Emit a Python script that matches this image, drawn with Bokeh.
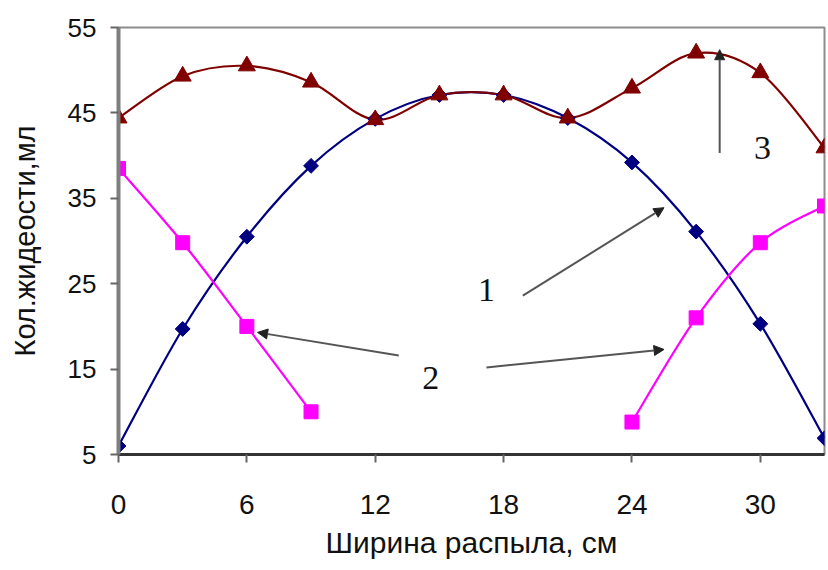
import math
from bokeh.plotting import figure
from bokeh.models import Range1d, FixedTicker, Arrow, NormalHead, ColumnDataSource, Title
from bokeh.core.properties import value
from bokeh.embed import file_html
from bokeh.resources import INLINE

# ---- data ----
width_cm = [0, 3, 6, 9, 12, 15, 18, 21, 24, 27, 30, 33]
series1 = [6.0, 19.7, 30.5, 38.8, 44.3, 47.1, 47.1, 44.4, 39.2, 31.1, 20.3, 6.9]
series3 = [44.4, 49.3, 50.5, 48.6, 44.2, 47.1, 47.1, 44.4, 47.9, 52.0, 49.7, 40.9]
series2_left_x = [0, 3, 6, 9]
series2_left = [38.5, 29.8, 20.0, 10.0]
series2_right_x = [24, 27, 30, 33]
series2_right = [8.8, 21.0, 29.8, 34.1]

x_ticks = [0, 6, 12, 18, 24, 30]
y_ticks = [5, 15, 25, 35, 45, 55]

x_title = "Ширина распыла, см"
y_title = "Кол.жидеости,мл"

labels_text = ["1", "2", "3"]
labels_x = [17.2, 14.6, 30.1]
labels_y = [24.3, 13.9, 40.9]

arrows_x0 = [18.9, 13.1, 17.2, 28.1]
arrows_y0 = [23.6, 16.6, 15.2, 40.3]
arrows_x1 = [25.5, 6.5, 25.5, 28.1]
arrows_y1 = [33.9, 19.3, 17.3, 52.4]


def smooth_segments(xs, ys):
    """Bezier control points for a smoothed line through the given points."""
    n = len(xs)
    out = dict(x0=[], y0=[], x1=[], y1=[], cx0=[], cy0=[], cx1=[], cy1=[])
    for i in range(n - 1):
        p0 = max(i - 1, 0)
        p3 = min(i + 2, n - 1)
        out["x0"].append(xs[i]); out["y0"].append(ys[i])
        out["x1"].append(xs[i + 1]); out["y1"].append(ys[i + 1])
        out["cx0"].append(xs[i] + (xs[i + 1] - xs[p0]) / 6.0)
        out["cy0"].append(ys[i] + (ys[i + 1] - ys[p0]) / 6.0)
        out["cx1"].append(xs[i + 1] - (xs[p3] - xs[i]) / 6.0)
        out["cy1"].append(ys[i + 1] - (ys[p3] - ys[i]) / 6.0)
    return ColumnDataSource(out)


p = figure(width=826, height=570, output_backend="svg", toolbar_location=None,
           x_range=Range1d(0, 33), y_range=Range1d(5, 55),
           min_border_left=118, min_border_right=2, min_border_top=27, min_border_bottom=116)

p.background_fill_color = "white"
p.border_fill_color = "white"
p.outline_line_color = "#8c8c8c"
p.outline_line_width = 2
p.xgrid.visible = False
p.ygrid.visible = False

BLUE = "#000080"
PINK = "#ff00ff"
RED = "#800000"

# smoothed lines
for xs, ys, col in [(width_cm, series1, BLUE), (width_cm, series3, RED),
                    (series2_left_x, series2_left, PINK), (series2_right_x, series2_right, PINK)]:
    src = smooth_segments(xs, ys)
    p.bezier(x0="x0", y0="y0", x1="x1", y1="y1", cx0="cx0", cy0="cy0", cx1="cx1", cy1="cy1",
             source=src, line_color=col, line_width=2.2)

# markers
p.scatter(width_cm, series1, marker="square", angle=math.pi / 4, size=10.5, color=BLUE)
p.scatter(series2_left_x, series2_left, marker="square", size=14, color=PINK)
p.scatter(series2_right_x, series2_right, marker="square", size=14, color=PINK)
p.scatter(width_cm, series3, marker="triangle", size=17, color=RED)

# annotation arrows and labels
for x0, y0, x1, y1 in zip(arrows_x0, arrows_y0, arrows_x1, arrows_y1):
    p.add_layout(Arrow(end=NormalHead(size=10, fill_color="#222222", line_color="#222222"),
                       x_start=x0, y_start=y0, x_end=x1, y_end=y1,
                       line_color="#555555", line_width=2))

p.text(x=labels_x, y=labels_y, text=labels_text, text_font=value("Liberation Serif"),
       text_font_size="34px", text_align="center", text_baseline="middle", text_color="#111111")

# x-axis title as a panel below the axis
p.add_layout(Title(text=x_title, align="center", text_font="Liberation Sans",
                   text_font_size="30px", text_font_style="normal", text_color="#111111",
                   standoff=14), "below")

# axes
p.xaxis.ticker = FixedTicker(ticks=x_ticks)
p.yaxis.ticker = FixedTicker(ticks=y_ticks)
p.xaxis.minor_tick_line_color = None
p.yaxis.minor_tick_line_color = None
p.xaxis.major_tick_in = 0
p.yaxis.major_tick_in = 0
p.xaxis.major_tick_out = 8
p.yaxis.major_tick_out = 8
p.xaxis.major_tick_line_color = "#666666"
p.yaxis.major_tick_line_color = "#666666"
p.xaxis.major_tick_line_width = 2
p.yaxis.major_tick_line_width = 2
p.xaxis.axis_line_color = "#333333"
p.xaxis.axis_line_width = 3
p.yaxis.axis_line_color = "#7f7f7f"
p.yaxis.axis_line_width = 4

p.xaxis.major_label_text_font = "Liberation Sans"
p.yaxis.major_label_text_font = "Liberation Sans"
p.xaxis.major_label_text_font_size = "28px"
p.yaxis.major_label_text_font_size = "26px"
p.xaxis.major_label_text_color = "#111111"
p.yaxis.major_label_text_color = "#111111"
p.xaxis.major_label_standoff = 32
p.yaxis.major_label_standoff = 14

p.yaxis.axis_label = y_title
p.yaxis.axis_label_text_font = "Liberation Sans"
p.yaxis.axis_label_text_font_style = "normal"
p.yaxis.axis_label_text_font_size = "29px"
p.yaxis.axis_label_text_color = "#111111"
p.yaxis.axis_label_standoff = 24

open("out.html", "w").write(file_html(p, INLINE))
